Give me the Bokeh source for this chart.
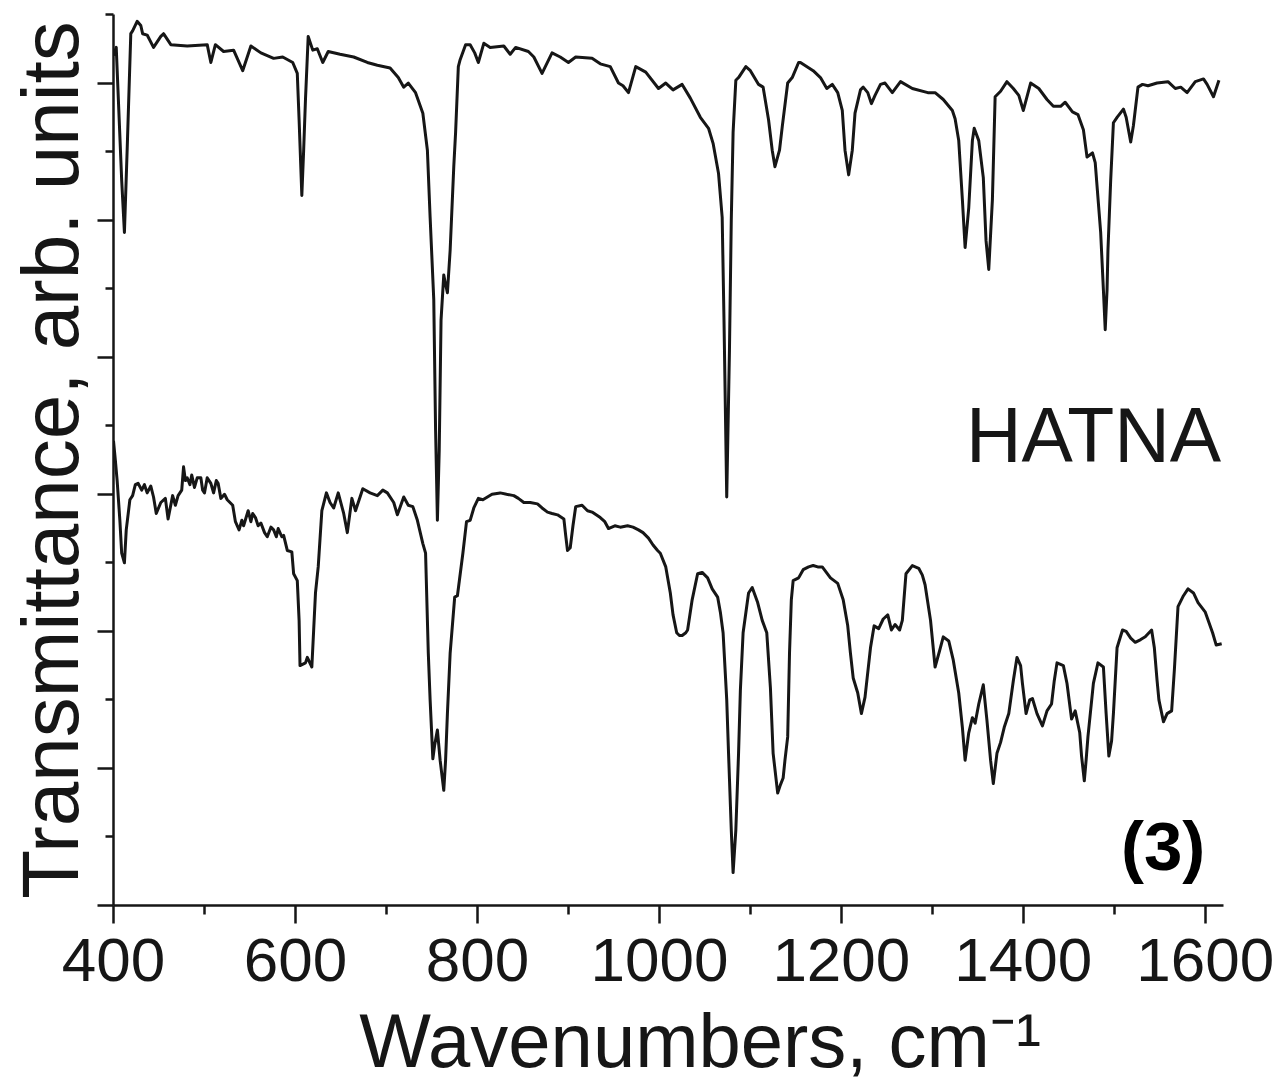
from bokeh.plotting import figure
from bokeh.models import Range1d, FixedTicker, Label, CustomJSTickFormatter
from bokeh.embed import file_html
from bokeh.resources import INLINE

# ---- data (wavenumber in cm-1, transmittance in arbitrary units) ----
top_wn = [400, 403, 409, 412, 415, 419, 421, 426, 430, 432, 437, 444, 452, 455, 463, 481, 503, 507, 512, 521,
          532, 542, 551, 562, 576, 586, 597, 602, 604, 607, 609, 611, 614, 619, 624, 630, 636, 649, 664, 679,
          690, 704, 713, 719, 724, 732, 740, 745, 748, 752, 754, 756, 758, 760, 763, 765, 767, 770, 774, 776,
          779, 781, 787, 792, 797, 801, 807, 814, 829, 836, 842, 856, 862, 871, 882, 891, 900, 908, 926, 935,
          946, 955, 960, 966, 974, 985, 999, 1007, 1015, 1025, 1034, 1045, 1054, 1059, 1065, 1069, 1071, 1074, 1077, 1079,
          1081, 1084, 1087, 1095, 1100, 1109, 1114, 1120, 1124, 1127, 1132, 1135, 1141, 1146, 1153, 1155, 1169, 1177, 1184, 1190,
          1196, 1201, 1204, 1208, 1212, 1215, 1221, 1224, 1229, 1233, 1237, 1243, 1248, 1256, 1265, 1278, 1295, 1303, 1312, 1322,
          1325, 1329, 1333, 1336, 1340, 1344, 1346, 1351, 1356, 1359, 1362, 1366, 1369, 1375, 1382, 1389, 1395, 1400, 1408, 1417,
          1426, 1433, 1441, 1446, 1454, 1460, 1466, 1470, 1476, 1479, 1485, 1488, 1490, 1492, 1493, 1496, 1499, 1503, 1510, 1513,
          1518, 1521, 1526, 1531, 1537, 1547, 1559, 1567, 1573, 1580, 1589, 1598, 1602, 1609, 1615]
top_t = [6.20, 6.26, 5.29, 4.91, 5.51, 6.36, 6.38, 6.45, 6.42, 6.36, 6.35, 6.26, 6.34, 6.36, 6.28, 6.27, 6.28, 6.15, 6.28, 6.23,
         6.24, 6.09, 6.27, 6.22, 6.18, 6.19, 6.15, 6.07, 5.73, 5.18, 5.51, 5.88, 6.34, 6.24, 6.25, 6.15, 6.23, 6.21, 6.19, 6.15,
         6.13, 6.11, 6.04, 5.97, 6.00, 5.93, 5.78, 5.51, 5.02, 4.42, 3.47, 2.81, 3.32, 4.27, 4.60, 4.53, 4.47, 4.78, 5.39, 5.64,
         6.12, 6.17, 6.28, 6.28, 6.22, 6.15, 6.29, 6.26, 6.27, 6.21, 6.26, 6.23, 6.19, 6.07, 6.22, 6.19, 6.15, 6.19, 6.18, 6.14,
         6.12, 6.00, 5.98, 5.93, 6.12, 6.08, 5.96, 6.00, 5.95, 5.99, 5.89, 5.75, 5.67, 5.56, 5.34, 5.02, 4.27, 2.98, 4.05, 5.00,
         5.64, 6.02, 6.04, 6.12, 6.09, 5.99, 5.97, 5.73, 5.51, 5.39, 5.51, 5.68, 6.00, 6.04, 6.15, 6.15, 6.09, 6.04, 5.96, 5.99,
         5.93, 5.80, 5.51, 5.33, 5.51, 5.78, 5.95, 5.97, 5.93, 5.85, 5.91, 5.99, 6.00, 5.93, 6.01, 5.96, 5.93, 5.93, 5.88, 5.80,
         5.74, 5.58, 5.15, 4.80, 5.09, 5.58, 5.67, 5.58, 5.31, 4.85, 4.64, 5.15, 5.90, 5.94, 6.01, 5.96, 5.91, 5.80, 6.00, 5.96,
         5.88, 5.83, 5.83, 5.86, 5.79, 5.77, 5.66, 5.46, 5.49, 5.42, 4.91, 4.49, 4.20, 4.49, 4.78, 5.29, 5.71, 5.75, 5.81, 5.75,
         5.57, 5.69, 5.97, 5.99, 5.98, 6.00, 6.01, 5.96, 5.97, 5.93, 6.01, 6.03, 5.99, 5.90, 6.02]

bot_wn = [400, 402, 404, 407, 409, 412, 414, 418, 421, 424, 427, 431, 434, 437, 441, 444, 447, 452, 457, 460,
          465, 468, 471, 475, 477, 479, 481, 484, 486, 489, 492, 496, 498, 500, 503, 507, 510, 513, 515, 518,
          522, 525, 531, 534, 538, 541, 543, 548, 551, 553, 556, 559, 562, 566, 569, 573, 576, 579, 581, 585,
          587, 591, 596, 598, 602, 604, 605, 611, 613, 618, 620, 622, 625, 629, 634, 638, 642, 647, 653, 657,
          662, 666, 674, 682, 690, 696, 701, 708, 712, 719, 724, 729, 734, 740, 743, 746, 748, 751, 753, 756,
          759, 763, 765, 767, 770, 775, 778, 784, 788, 792, 796, 801, 806, 811, 816, 825, 832, 840, 845, 851,
          858, 866, 871, 877, 882, 888, 895, 897, 899, 902, 905, 908, 915, 921, 926, 935, 940, 944, 951, 957,
          965, 971, 977, 982, 988, 993, 998, 1001, 1007, 1012, 1015, 1019, 1022, 1025, 1029, 1031, 1036, 1042, 1047, 1053,
          1058, 1064, 1067, 1070, 1074, 1076, 1079, 1081, 1084, 1087, 1089, 1092, 1098, 1102, 1108, 1113, 1118, 1122, 1125, 1130,
          1133, 1136, 1138, 1141, 1143, 1145, 1147, 1153, 1158, 1164, 1169, 1174, 1179, 1188, 1196, 1202, 1207, 1210, 1213, 1218,
          1222, 1226, 1232, 1236, 1241, 1246, 1251, 1255, 1259, 1264, 1267, 1271, 1278, 1285, 1289, 1292, 1298, 1303, 1308, 1312,
          1318, 1323, 1329, 1333, 1336, 1340, 1344, 1347, 1351, 1356, 1360, 1364, 1367, 1371, 1375, 1379, 1384, 1389, 1393, 1397,
          1399, 1403, 1407, 1410, 1415, 1421, 1426, 1431, 1434, 1437, 1444, 1448, 1453, 1457, 1462, 1464, 1467, 1469, 1471, 1477,
          1482, 1488, 1491, 1494, 1497, 1499, 1503, 1509, 1513, 1518, 1523, 1529, 1534, 1541, 1544, 1547, 1549, 1554, 1558, 1563,
          1566, 1570, 1576, 1581, 1587, 1592, 1600, 1608, 1612, 1618]
bot_t = [3.39, 3.25, 3.10, 2.81, 2.57, 2.50, 2.74, 2.96, 2.99, 3.07, 3.08, 3.03, 3.07, 3.01, 3.06, 2.98, 2.86, 2.94, 2.97, 2.82,
         2.99, 2.92, 2.99, 3.03, 3.20, 3.10, 3.12, 3.07, 3.14, 3.05, 3.12, 3.12, 3.03, 3.01, 3.12, 3.08, 3.01, 3.10, 3.08, 2.97,
         3.00, 2.96, 2.92, 2.80, 2.74, 2.81, 2.77, 2.88, 2.80, 2.86, 2.83, 2.77, 2.79, 2.72, 2.69, 2.76, 2.74, 2.69, 2.75, 2.69,
         2.70, 2.59, 2.58, 2.42, 2.37, 2.08, 1.75, 1.77, 1.81, 1.74, 2.01, 2.28, 2.47, 2.88, 3.01, 2.94, 2.90, 3.01, 2.86, 2.72,
         2.97, 2.88, 3.04, 3.01, 2.99, 3.03, 3.01, 2.94, 2.85, 2.98, 2.92, 2.91, 2.81, 2.64, 2.57, 1.84, 1.50, 1.07, 1.17, 1.28,
         1.06, 0.84, 1.06, 1.40, 1.84, 2.25, 2.26, 2.57, 2.80, 2.81, 2.90, 2.97, 2.96, 2.98, 3.00, 3.01, 3.00, 2.99, 2.97, 2.94,
         2.94, 2.93, 2.90, 2.87, 2.86, 2.85, 2.82, 2.70, 2.59, 2.61, 2.77, 2.91, 2.92, 2.88, 2.87, 2.83, 2.80, 2.75, 2.77, 2.76,
         2.77, 2.76, 2.74, 2.72, 2.68, 2.63, 2.59, 2.57, 2.47, 2.28, 2.12, 1.99, 1.97, 1.97, 1.99, 2.01, 2.23, 2.42, 2.43, 2.39,
         2.31, 2.25, 2.14, 1.99, 1.50, 1.11, 0.55, 0.24, 0.55, 1.11, 1.57, 1.99, 2.28, 2.32, 2.21, 2.08, 1.99, 1.59, 1.11, 0.82,
         0.88, 0.93, 1.06, 1.23, 1.84, 2.23, 2.37, 2.39, 2.45, 2.47, 2.48, 2.47, 2.47, 2.39, 2.35, 2.23, 2.04, 1.84, 1.66, 1.55,
         1.40, 1.52, 1.88, 2.04, 2.02, 2.09, 2.12, 2.01, 2.05, 2.01, 2.08, 2.42, 2.48, 2.46, 2.41, 2.34, 2.08, 1.74, 1.86, 1.96,
         1.93, 1.79, 1.55, 1.30, 1.06, 1.26, 1.37, 1.33, 1.47, 1.61, 1.35, 1.06, 0.89, 1.11, 1.19, 1.30, 1.40, 1.64, 1.81, 1.75,
         1.62, 1.40, 1.50, 1.51, 1.40, 1.31, 1.42, 1.47, 1.64, 1.77, 1.75, 1.62, 1.36, 1.42, 1.26, 1.09, 0.91, 1.06, 1.23, 1.62,
         1.77, 1.74, 1.40, 1.09, 1.20, 1.40, 1.88, 2.01, 2.00, 1.95, 1.92, 1.94, 1.96, 2.01, 1.88, 1.64, 1.50, 1.34, 1.40, 1.42,
         1.72, 2.18, 2.26, 2.31, 2.28, 2.21, 2.14, 1.99, 1.90, 1.91]

x_major = [400, 600, 800, 1000, 1200, 1400, 1600]
x_minor = [500, 700, 900, 1100, 1300, 1500]
y_major = [0, 1, 2, 3, 4, 5, 6]
y_minor = [0.5, 1.5, 2.5, 3.5, 4.5, 5.5, 6.5]

FONT = "Liberation Sans"
INK = "#161616"

p = figure(width=1274, height=1088, output_backend="svg", toolbar_location=None,
           x_range=Range1d(400, 1620), y_range=Range1d(0, 6.5),
           min_border_left=113, min_border_right=51, min_border_top=14, min_border_bottom=183)
p.outline_line_color = None
p.xgrid.grid_line_color = None
p.ygrid.grid_line_color = None
p.background_fill_color = "white"
p.border_fill_color = "white"

p.line(top_wn, top_t, line_color=INK, line_width=3, line_join="round")
p.line(bot_wn, bot_t, line_color=INK, line_width=3, line_join="round")

# x axis
xa = p.xaxis[0]
xa.ticker = FixedTicker(ticks=x_major, minor_ticks=x_minor)
xa.axis_line_width = 2.5
xa.axis_line_color = INK
xa.major_tick_line_width = 2.5
xa.minor_tick_line_width = 2.5
xa.major_tick_line_color = INK
xa.minor_tick_line_color = INK
xa.major_tick_in = 0
xa.major_tick_out = 18
xa.minor_tick_in = 0
xa.minor_tick_out = 9
xa.major_label_text_font = FONT
xa.major_label_text_font_size = "62px"
xa.major_label_text_color = INK
xa.major_label_standoff = 15
xa.axis_label = "\u00a0\u00a0\u00a0Wavenumbers, cm\u207b\u00b9"
xa.axis_label_text_font = FONT
xa.axis_label_text_font_size = "76px"
xa.axis_label_text_font_style = "normal"
xa.axis_label_text_color = INK
xa.axis_label_standoff = 14

# y axis (unlabelled ticks)
ya = p.yaxis[0]
ya.ticker = FixedTicker(ticks=y_major, minor_ticks=y_minor)
ya.formatter = CustomJSTickFormatter(code="return ''")
ya.axis_line_width = 2.5
ya.axis_line_color = INK
ya.major_tick_line_width = 2.5
ya.minor_tick_line_width = 2.5
ya.major_tick_line_color = INK
ya.minor_tick_line_color = INK
ya.major_tick_in = 0
ya.major_tick_out = 16
ya.minor_tick_in = 0
ya.minor_tick_out = 8
ya.major_label_standoff = 0
ya.axis_label = "Transmittance, arb. units"
ya.axis_label_text_font = FONT
ya.axis_label_text_font_size = "80px"
ya.axis_label_text_font_style = "normal"
ya.axis_label_text_color = INK
ya.axis_label_standoff = 3

p.add_layout(Label(x=1617.5, y=3.43, text="HATNA", text_font=FONT, text_font_size="77px",
                   text_color=INK, text_align="right", text_baseline="alphabetic"))
p.add_layout(Label(x=1600, y=0.43, text="(3)", text_font=FONT, text_font_size="69px",
                   text_font_style="bold", text_color="black", text_align="right",
                   text_baseline="alphabetic"))

open("out.html", "w").write(file_html(p, INLINE))
